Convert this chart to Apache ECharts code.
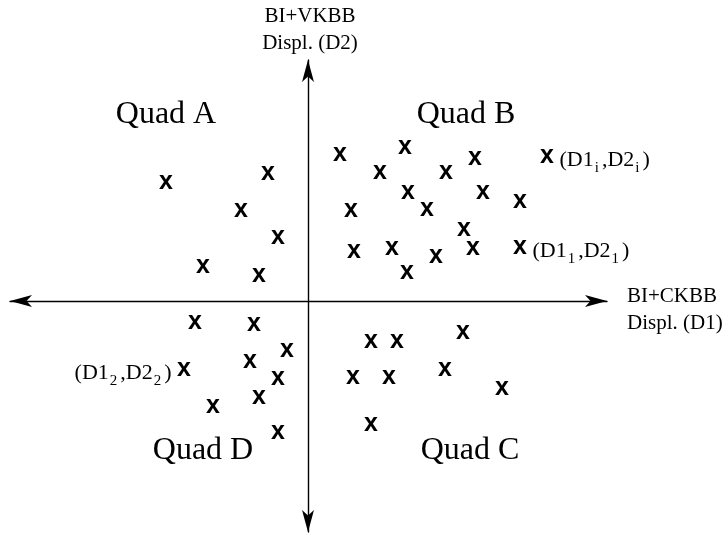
<!DOCTYPE html>
<html>
<head>
<meta charset="utf-8">
<script src="https://cdn.jsdelivr.net/npm/echarts@6/dist/echarts.min.js"></script>
<style>
  html, body { margin: 0; padding: 0; background: #fff; }
  #quad-chart { width: 728px; height: 536px; }
</style>
</head>
<body>
<div id="quad-chart"></div>
<script>
// points as [D1, D2] displacement, origin at the axis crossing
const quadA = [[-142, 118], [-40, 127], [-67, 90], [-30, 63], [-105, 34], [-49, 25]];
const quadB = [
  [32, 146], [97, 153], [167, 142], [72, 128], [138, 128], [100, 108],
  [175, 108], [212, 99], [43, 90], [119, 91], [156, 71], [46, 49],
  [84, 52], [128, 44], [165, 52], [99, 28], [239, 144], [212, 53]
];
const quadC = [[63, -41], [89, -41], [155, -32], [45, -77], [81, -77], [137, -69], [194, -88], [63, -124]];
const quadD = [[-113, -22], [-54, -24], [-21, -50], [-124, -69], [-58, -61], [-30, -78], [-49, -97], [-95, -106], [-30, -132]];

// labelled samples: point, subscript, side of the label
const tagPoints = [[239, 144], [212, 53], [-124, -69]];
const tagSubs = ["i", "1", "2"];
const tagSides = ["right", "right", "left"];

const quadNames = ["Quad A", "Quad B", "Quad C", "Quad D"];
const axisNameX = ["BI+CKBB", "Displ. (D1)"];
const axisNameY = ["BI+VKBB", "Displ. (D2)"];

const serif = "Liberation Serif";
let chart = echarts.init(document.getElementById("quad-chart"));

const markSeries = [quadA, quadB, quadC, quadD].map((pts, i) => ({
  name: quadNames[i],
  type: "scatter",
  data: pts,
  symbolSize: 1,
  itemStyle: { color: "rgba(0,0,0,0)", opacity: 1 },
  label: {
    show: true,
    position: "inside",
    formatter: "x",
    color: "#000",
    opacity: 1,
    textBorderWidth: 0,
    fontFamily: "Liberation Sans",
    fontWeight: "bold",
    fontSize: 25,
    offset: [0, -1]
  },
  emphasis: { disabled: true },
  silent: true
}));

const tagSeries = {
  type: "scatter",
  symbolSize: 1,
  itemStyle: { color: "rgba(0,0,0,0)", opacity: 1 },
  silent: true,
  emphasis: { disabled: true },
  data: tagPoints.map((p, i) => ({
    value: p,
    label: {
      show: true,
      position: tagSides[i],
      distance: 12,
      offset: [0, 3],
      opacity: 1,
      textBorderWidth: 0,
      formatter: "{n|(D1}{s|" + tagSubs[i] + "}{n|,D2}{s|" + tagSubs[i] + "}{n|)}",
      rich: {
        n: { fontFamily: serif, fontSize: 22, color: "#000", lineHeight: 24 },
        s: { fontFamily: serif, fontSize: 15, color: "#000", lineHeight: 15, padding: [16, 3, 0, 1] }
      }
    }
  }))
};

function txt(text, x, y, size, align) {
  return {
    type: "text",
    x: x,
    y: y,
    silent: true,
    style: {
      text: text,
      font: size + "px '" + serif + "'",
      fill: "#000",
      textAlign: align,
      textVerticalAlign: "middle"
    }
  };
}

const option = {
  animation: false,
  backgroundColor: "#fff",
  grid: { left: 10, top: 60, width: 597, height: 472, containLabel: false },
  xAxis: {
    type: "value",
    min: -298,
    max: 299,
    axisLine: {
      onZero: true,
      symbol: ["arrow", "arrow"],
      symbolSize: [9, 22],
      lineStyle: { color: "#000", width: 1.4 }
    },
    axisTick: { show: false },
    axisLabel: { show: false },
    splitLine: { show: false }
  },
  yAxis: {
    type: "value",
    min: -231,
    max: 241,
    axisLine: {
      onZero: true,
      symbol: ["arrow", "arrow"],
      symbolSize: [9, 22],
      lineStyle: { color: "#000", width: 1.4 }
    },
    axisTick: { show: false },
    axisLabel: { show: false },
    splitLine: { show: false }
  },
  graphic: [
    txt(quadNames[0], 166, 115, 32, "center"),
    txt(quadNames[1], 466, 115, 32, "center"),
    txt(quadNames[2], 470, 451, 32, "center"),
    txt(quadNames[3], 203, 451, 32, "center"),
    txt(axisNameY[0], 310, 16, 21, "center"),
    txt(axisNameY[1], 310, 43, 21, "center"),
    txt(axisNameX[0], 627, 296, 21, "left"),
    txt(axisNameX[1], 627, 323, 21, "left")
  ],
  series: markSeries.concat([tagSeries])
};

option && chart.setOption(option);
</script>
</body>
</html>
